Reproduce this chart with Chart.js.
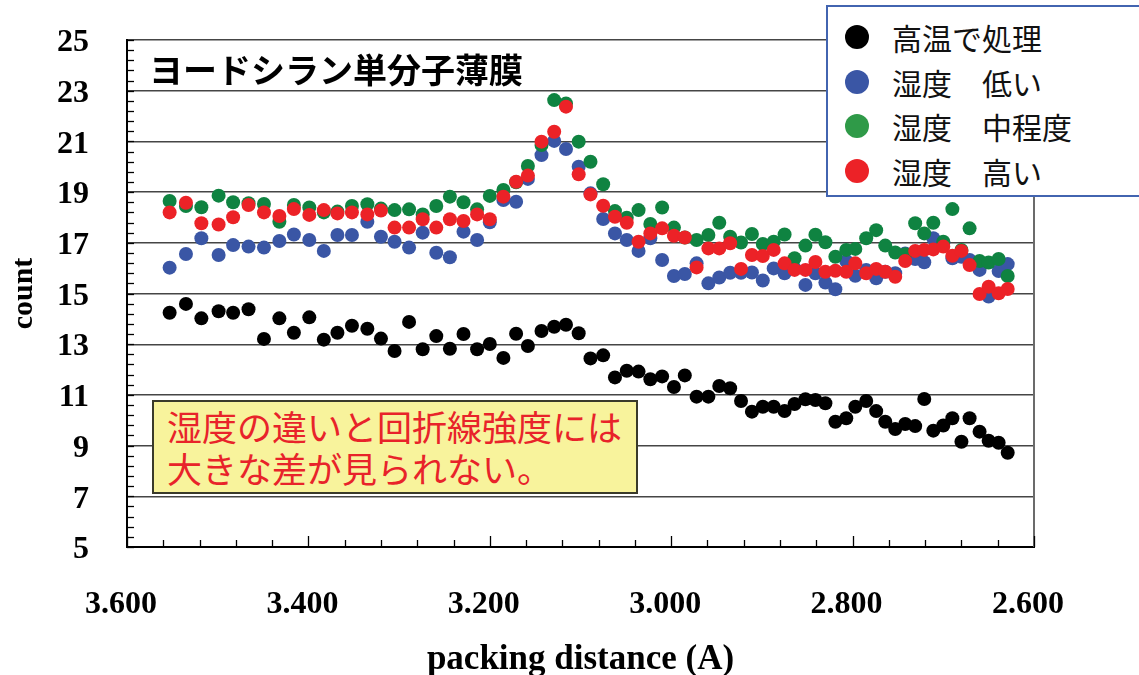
<!DOCTYPE html>
<html>
<head>
<meta charset="utf-8">
<script src="https://cdn.jsdelivr.net/npm/chart.js@4.4.1/dist/chart.umd.min.js"></script>
<style>
  html, body { margin: 0; padding: 0; background: #fff; }
  #wrap { position: relative; width: 1139px; height: 675px; overflow: hidden; }
  #chart { position: absolute; left: 0; top: 0; }
  .title {
    position: absolute; left: 149px; top: 52px;
    font: bold 34px 'Noto Sans CJK JP'; line-height: 1; color: #000; white-space: nowrap;
  }
  .legend {
    position: absolute; left: 826px; top: 5px; width: 330px; height: 192px;
    box-sizing: border-box; border: 2.5px solid #4264b0; background: #fff;
  }
  .legend .row { position: absolute; left: 0; height: 40px; line-height: 40px; white-space: nowrap;
    font: 30px 'Noto Sans CJK JP'; color: #111; }
  .legend .dot { position: absolute; left: 17px; top: 10px; width: 24px; height: 24px; border-radius: 50%; }
  .legend .txt { position: absolute; left: 64px; top: 0; }
  .note {
    position: absolute; left: 152px; top: 400px; width: 486px; height: 94px;
    box-sizing: border-box; border: 2px solid #3a3a2a; background: #f8f39c;
    padding: 3px 0 0 13px; color: #e8232a; font: 35px 'Noto Sans CJK JP'; line-height: 42px;
    white-space: nowrap;
  }
</style>
</head>
<body>
<div id="wrap">
  <canvas id="chart" width="1139" height="675"></canvas>
  <div class="title">ヨードシラン単分子薄膜</div>
  <div class="legend" id="legend"></div>
  <div class="note">湿度の違いと回折線強度には<br>大きな差が見られない。</div>
</div>
<script>
// packing distance of each measured point (A)
const distance = [
  3.553, 3.535, 3.518, 3.499, 3.483, 3.466, 3.449, 3.432, 3.416, 3.399,
  3.383, 3.368, 3.352, 3.335, 3.320, 3.305, 3.289, 3.274, 3.259, 3.244,
  3.229, 3.214, 3.200, 3.185, 3.171, 3.158, 3.143, 3.129, 3.116, 3.102,
  3.089, 3.075, 3.062, 3.049, 3.036, 3.023, 3.010, 2.997, 2.985, 2.972,
  2.959, 2.947, 2.935, 2.923, 2.911, 2.899, 2.887, 2.875, 2.864, 2.852,
  2.841, 2.830, 2.819, 2.807, 2.797, 2.785, 2.774, 2.764, 2.753, 2.742,
  2.731, 2.721, 2.711, 2.700, 2.690, 2.680, 2.671, 2.660, 2.650, 2.639, 2.629
];

const highTemp = [
  14.24, 14.59, 14.02, 14.30, 14.24, 14.38, 13.21, 14.02, 13.45, 14.06,
  13.18, 13.45, 13.73, 13.61, 13.22, 12.73, 13.88, 12.80, 13.32, 12.82,
  13.40, 12.80, 13.01, 12.46, 13.41, 12.93, 13.52, 13.69, 13.77, 13.43,
  12.44, 12.56, 11.69, 11.95, 11.92, 11.62, 11.73, 11.31, 11.77, 10.93,
  10.93, 11.35, 11.26, 10.76, 10.34, 10.53, 10.53, 10.36, 10.64, 10.83,
  10.80, 10.67, 9.94, 10.08, 10.53, 10.76, 10.36, 9.94, 9.65, 9.85,
  9.77, 10.84, 9.59, 9.79, 10.08, 9.15, 10.08, 9.55, 9.19, 9.11, 8.72
];

const humLow = [
  16.02, 16.56, 17.18, 16.52, 16.91, 16.85, 16.81, 17.07, 17.33, 17.11,
  16.68, 17.31, 17.31, 17.83, 17.24, 17.04, 16.81, 17.40, 16.61, 16.43,
  17.44, 17.11, 17.81, 18.69, 18.62, 19.52, 20.46, 21.02, 20.70, 20.00,
  18.95, 17.94, 17.37, 17.11, 16.68, 17.18, 16.32, 15.69, 15.77, 16.19,
  15.40, 15.63, 15.82, 15.82, 15.83, 15.51, 15.99, 15.80, 15.99, 15.34,
  15.80, 15.43, 15.17, 16.28, 15.70, 15.93, 15.60, 15.86, 15.80, 16.58,
  16.36, 16.23, 17.18, 16.98, 16.39, 16.45, 16.32, 15.93, 14.88, 15.89, 16.16
];

const humMid = [
  18.65, 18.45, 18.40, 18.86, 18.60, 18.56, 18.53, 17.83, 18.49, 18.39,
  18.20, 18.23, 18.45, 18.52, 18.35, 18.29, 18.32, 18.12, 18.45, 18.82,
  18.60, 18.32, 18.85, 19.08, 19.39, 20.03, 20.86, 22.63, 22.50, 20.99,
  20.20, 19.31, 18.25, 17.99, 18.29, 17.74, 18.39, 17.60, 17.21, 17.11,
  17.31, 17.79, 17.24, 17.01, 17.35, 16.95, 17.04, 17.33, 16.39, 16.89,
  17.32, 17.02, 16.45, 16.72, 16.76, 17.18, 17.50, 16.89, 16.62, 16.55,
  17.77, 17.37, 17.79, 17.04, 18.33, 16.72, 17.57, 16.28, 16.22, 16.36, 15.69
];

const humHigh = [
  18.20, 18.58, 17.77, 17.72, 18.01, 18.49, 18.20, 18.06, 18.33, 18.10,
  18.29, 18.16, 18.20, 18.12, 18.27, 17.60, 17.60, 17.93, 17.60, 17.93,
  17.86, 18.12, 17.93, 18.82, 19.41, 19.65, 20.99, 21.38, 22.37, 19.70,
  18.91, 18.46, 18.03, 17.79, 17.04, 17.37, 17.57, 17.28, 17.21, 16.03,
  16.78, 16.78, 16.98, 15.97, 16.52, 16.48, 16.72, 16.19, 15.93, 15.93,
  16.24, 15.86, 15.90, 15.86, 16.19, 15.80, 15.97, 15.86, 15.66, 16.28,
  16.68, 16.72, 16.74, 16.85, 16.49, 16.68, 16.12, 14.98, 15.27, 15.01, 15.18
];

const seriesNames = ['高温で処理', '湿度　低い', '湿度　中程度', '湿度　高い'];
const seriesValues = [highTemp, humLow, humMid, humHigh];
const pointColors = ['#000000', '#3a56a5', '#0f8341', '#ec2227'];
const legendColors = ['#000000', '#3a56a5', '#2f9a48', '#ec2227'];

const xTicks = [2.6, 2.8, 3.0, 3.2, 3.4, 3.6];
const yTicks = [5, 7, 9, 11, 13, 15, 17, 19, 21, 23, 25];

// legend box (top right, partly off the picture)
const legendEl = document.getElementById('legend');
seriesNames.forEach((name, i) => {
  const row = document.createElement('div');
  row.className = 'row';
  row.style.top = (8 + i * 44.7) + 'px';
  row.innerHTML = '<span class="dot" style="background:' + legendColors[i] + '"></span>' +
    '<span class="txt">' + name + '</span>';
  legendEl.appendChild(row);
});

// frame on the right and inward minor ticks
const frameTicks = {
  id: 'frameTicks',
  afterDraw(chart) {
    const { ctx, chartArea: a, scales: { x, y } } = chart;
    ctx.save();
    ctx.strokeStyle = '#6b6b6b';
    ctx.lineWidth = 2;
    ctx.beginPath();
    ctx.moveTo(a.right, a.top);
    ctx.lineTo(a.right, a.bottom);
    ctx.stroke();

    ctx.strokeStyle = '#000';
    ctx.lineWidth = 1.3;
    for (let i = 0; i <= 25; i++) {
      const px = Math.round(x.getPixelForValue(2.6 + i * 0.04)) + 0.5;
      const len = i % 5 === 0 ? 11 : 7;
      ctx.beginPath();
      ctx.moveTo(px, a.bottom);
      ctx.lineTo(px, a.bottom - len);
      ctx.stroke();
    }
    for (let i = 0; i <= 50; i++) {
      const py = Math.round(y.getPixelForValue(5 + i * 0.4)) + 0.5;
      ctx.beginPath();
      ctx.moveTo(a.left, py);
      ctx.lineTo(a.left + 7, py);
      ctx.stroke();
    }
    ctx.restore();
  }
};

const order = [4, 3, 2, 1];
const datasets = seriesValues.map((vals, i) => ({
  label: seriesNames[i],
  data: vals.map((v, k) => ({ x: distance[k], y: v })),
  backgroundColor: pointColors[i],
  borderColor: pointColors[i],
  borderWidth: 0,
  pointRadius: 7,
  pointHoverRadius: 7,
  showLine: false,
  order: order[i]
}));

const axisFont = { family: 'Liberation Serif', weight: 'bold', size: 32 };

new Chart(document.getElementById('chart'), {
  type: 'scatter',
  data: { datasets },
  options: {
    responsive: false,
    animation: false,
    devicePixelRatio: 1,
    layout: { padding: { top: 40, right: 105, left: 0, bottom: 0 } },
    plugins: { legend: { display: false }, tooltip: { enabled: false } },
    scales: {
      x: {
        type: 'linear',
        reverse: true,
        min: 2.6,
        max: 3.6,
        afterBuildTicks: s => { s.ticks = xTicks.map(v => ({ value: v })); },
        afterFit: s => { s.height = 128; },
        ticks: {
          color: '#000',
          font: axisFont,
          padding: 39,
          labelOffset: -6,
          maxRotation: 0,
          callback: v => Number(v).toFixed(3)
        },
        grid: { display: false, drawTicks: false },
        border: { display: true, color: '#000', width: 2 },
        title: {
          display: true,
          text: 'packing distance (A)',
          color: '#000',
          font: { family: 'Liberation Serif', weight: 'bold', size: 35 },
          padding: { top: 0, bottom: -6 }
        }
      },
      y: {
        min: 5,
        max: 25,
        afterBuildTicks: s => { s.ticks = yTicks.map(v => ({ value: v })); },
        afterFit: s => { s.width = 127; s.paddingTop = 0; s.paddingBottom = 0; },
        ticks: { color: '#000', font: axisFont, padding: 38, labelOffset: 3 },
        grid: { color: '#454545', lineWidth: 1.4, drawTicks: false },
        border: { display: true, color: '#000', width: 2 },
        title: {
          display: true,
          text: 'count',
          color: '#000',
          font: { family: 'Liberation Serif', weight: 'bold', size: 30 },
          padding: { top: 6, bottom: 0 }
        }
      }
    }
  },
  plugins: [frameTicks]
});
</script>
</body>
</html>
